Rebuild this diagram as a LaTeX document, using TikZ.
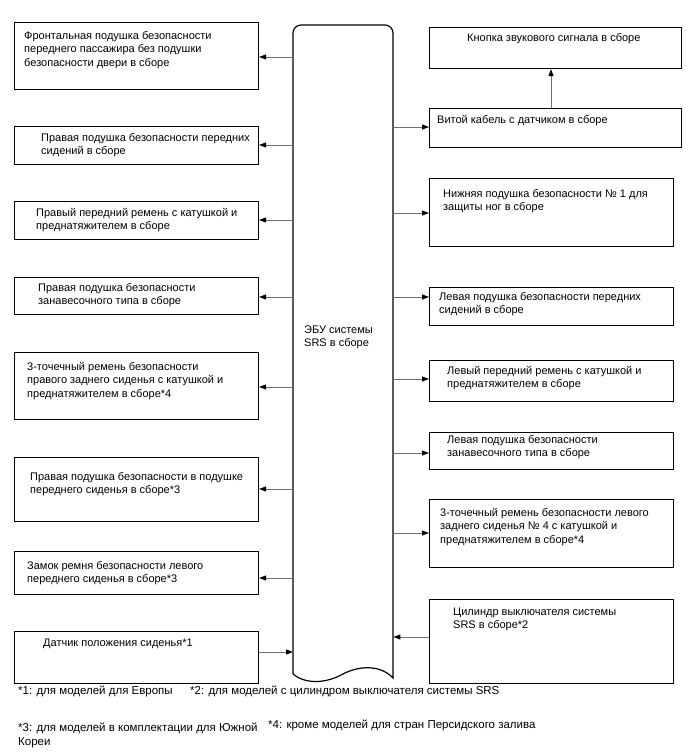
\documentclass[tikz,border=0pt]{standalone}
\usepackage{fontspec}
\setmainfont{Liberation Sans}
\usetikzlibrary{arrows.meta}
\definecolor{conngray}{RGB}{110,110,110}
\tikzset{
  box/.style={draw=black, line width=1.1pt, rectangle, inner sep=0pt, anchor=north west},
  txt/.style={anchor=north west, inner sep=0pt, align=left, font=\fontsize{11}{13.5}\selectfont},
  foot/.style={anchor=north west, inner sep=0pt, align=left, font=\fontsize{11.5}{14}\selectfont},
  conn/.style={draw=conngray, line width=0.9pt, -{Triangle[length=7pt,width=5pt,color=black]}},
}
\newcommand{\tstrut}{\rule{0pt}{10pt}}
\newcommand{\leftbox}[6]{% name, top, bottom, textx, baseline, text
  \node[box, minimum width=244pt, minimum height=#3pt-#2pt] (#1) at (14,#2) {};
  \node[txt] (#1t) at (#4,#5-10) {\tstrut#6};
}
\newcommand{\rightbox}[7]{% name, top, bottom, right, textx, baseline, text
  \node[box, minimum width=#4pt-429pt, minimum height=#3pt-#2pt] (#1) at (429,#2) {};
  \node[txt] (#1t) at (#5,#6-10) {\tstrut#7};
}
\begin{document}
\begin{tikzpicture}[x=1pt,y=-1pt]
\useasboundingbox (0,0) rectangle (688,755);
\fill[white] (0,0) rectangle (688,755);

% ECU
\node[inner sep=0pt, minimum width=100pt, minimum height=650pt, anchor=north west] (ecu) at (293,25) {};
\draw[line width=1.2pt, black]
  (293,674) -- (293,33) arc[start angle=180, end angle=270, radius=8]
  -- (385,25) arc[start angle=270, end angle=360, radius=8]
  -- (393,678)
  .. controls (380,664) and (358,666) .. (343,674)
  .. controls (325,684) and (305,684) .. (293,674);
\node[txt] (ecut) at (304,323) {\tstrut ЭБУ системы\\SRS в сборе};

% left boxes
\leftbox{L1}{22}{89}{24}{39}{Фронтальная подушка безопасности\\переднего пассажира без подушки\\безопасности двери в сборе}
\leftbox{L2}{126}{164}{41}{141}{Правая подушка безопасности передних\\сидений в сборе}
\leftbox{L3}{201}{239}{36}{216}{Правый передний ремень с катушкой и\\преднатяжителем в сборе}
\leftbox{L4}{277}{314}{38}{291}{Правая подушка безопасности\\занавесочного типа в сборе}
\leftbox{L5}{352}{419}{27}{370}{3-точечный ремень безопасности\\правого заднего сиденья с катушкой и\\преднатяжителем в сборе*4}
\leftbox{L6}{457}{521}{30}{480}{Правая подушка безопасности в подушке\\переднего сиденья в сборе*3}
\leftbox{L7}{551}{594}{27}{569}{Замок ремня безопасности левого\\переднего сиденья в сборе*3}
\leftbox{L8}{631}{683}{43}{646}{Датчик положения сиденья*1}

% right boxes
\rightbox{R1}{27}{68}{681}{467}{41}{Кнопка звукового сигнала в сборе}
\rightbox{R2}{108}{147}{681}{437}{123}{Витой кабель с датчиком в сборе}
\rightbox{R3}{178}{246}{673}{443}{197}{Нижняя подушка безопасности № 1 для\\защиты ног в сборе}
\rightbox{R4}{287}{325}{673}{439}{300}{Левая подушка безопасности передних\\сидений в сборе}
\rightbox{R5}{360}{401}{673}{447}{374}{Левый передний ремень с катушкой и\\преднатяжителем в сборе}
\rightbox{R6}{432}{469}{673}{447}{443}{Левая подушка безопасности\\занавесочного типа в сборе}
\rightbox{R7}{499}{567}{673}{440}{516}{3-точечный ремень безопасности левого\\заднего сиденья № 4 с катушкой и\\преднатяжителем в сборе*4}
\rightbox{R8}{599}{683}{673}{453}{615}{Цилиндр выключателя системы\\SRS в сборе*2}

% row coordinates
\coordinate (yL1) at (0,57);
\coordinate (yL2) at (0,145);
\coordinate (yL3) at (0,220);
\coordinate (yL4) at (0,297);
\coordinate (yL5) at (0,387);
\coordinate (yL6) at (0,489);
\coordinate (yL7) at (0,578);
\coordinate (yL8) at (0,652);
\coordinate (yR2) at (0,127);
\coordinate (yR3) at (0,213);
\coordinate (yR4) at (0,297);
\coordinate (yR5) at (0,379);
\coordinate (yR6) at (0,453);
\coordinate (yR7) at (0,533);
\coordinate (yR8) at (0,637);
\coordinate (xR) at (551,0);

% connectors left
\foreach \n in {L1,L2,L3,L4,L5,L6,L7}
  \draw[conn] (ecu.west |- y\n) -- (\n.east |- y\n);
\draw[conn] (L8.east |- yL8) -- (ecu.west |- yL8);
% connectors right
\foreach \n in {R2,R3,R4,R5,R6,R7}
  \draw[conn] (ecu.east |- y\n) -- (\n.west |- y\n);
\draw[conn] (R8.west |- yR8) -- (ecu.east |- yR8);
\draw[conn] (R2.north -| xR) -- (R1.south -| xR);

% footnotes
\node[foot] (f1) at (18,684) {\tstrut*1: для моделей для Европы};
\node[foot] (f2) at (190,684) {\tstrut*2: для моделей с цилиндром выключателя системы SRS};
\node[foot] (f3) at (18,721) {\tstrut*3: для моделей в комплектации для Южной\\Кореи};
\node[foot] (f4) at (268,718) {\tstrut*4: кроме моделей для стран Персидского залива};
\end{tikzpicture}
\end{document}
